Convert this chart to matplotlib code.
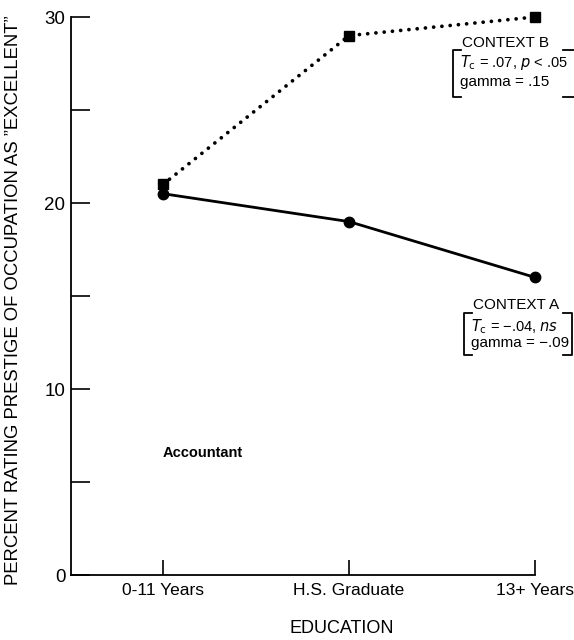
import matplotlib.pyplot as plt
import numpy as np

plt.rcParams['font.family'] = ['Liberation Sans', 'DejaVu Sans']

education = ['0-11 Years', 'H.S. Graduate', '13+ Years']
context_a = [20.5, 19.0, 16.0]
context_b = [21.0, 29.0, 30.0]
yticks = [0, 5, 10, 15, 20, 25, 30]
ylabels = ['0', '', '10', '', '20', '', '30']

fig = plt.figure(figsize=(5.74, 6.4), dpi=100)
ax = fig.add_axes([71/574, 1 - 575/640, 464/574, 558/640])

x = np.arange(len(education))
ax.plot(x, context_b, color='black', lw=2.7, linestyle=(0, (0.01, 2.2)),
        dash_capstyle='round', marker='s', ms=7.5, clip_on=False, zorder=3)
ax.plot(x, context_a, color='black', lw=2, marker='o', ms=7.5,
        clip_on=False, zorder=3)

ax.set_xlim(-0.495, 2)
ax.set_ylim(0, 30)
ax.set_xticks(x)
ax.set_xticklabels(education, fontsize=12.5)
ax.set_yticks(yticks)
ax.set_yticklabels(ylabels, fontsize=13.5)
ax.tick_params(axis='y', direction='in', length=14, width=1.2, pad=4)
ax.tick_params(axis='x', direction='in', length=11, width=1.2, pad=6)
for s in ['top', 'right']:
    ax.spines[s].set_visible(False)
for s in ['left', 'bottom']:
    ax.spines[s].set_linewidth(1.3)

ax.set_xlabel('EDUCATION', fontsize=13)
ax.xaxis.set_label_coords(0.584, -0.08)
ax.set_ylabel('PERCENT RATING PRESTIGE OF OCCUPATION AS \u201dEXCELLENT\u201d', fontsize=13.3)
ax.yaxis.set_label_coords(-0.106, 0.493)

ax.text(0, 6.55, 'Accountant', fontsize=10.5, fontweight='bold', ha='left', va='center')


def stats_box(xl, xt, ys, title, line1, line2, close):
    # ys: title centre, bracket top, line1, line2, bracket bottom (pixels)
    fig.text(xt/574, 1 - ys[0]/640, title, fontsize=11, ha='left', va='center')
    fig.text((xl + 7)/574, 1 - ys[2]/640, line1, fontsize=10.5, ha='left', va='center')
    fig.text((xl + 7)/574, 1 - ys[3]/640, line2, fontsize=11, ha='left', va='center')
    yt, yb = ys[1], ys[4]
    segs = [([xl + 8, xl, xl, xl + 8], [yt, yt, yb, yb])]
    if close:
        segs.append(([563, 572, 572, 563], [yt, yt, yb, yb]))
    else:
        segs += [([563, 574], [yt, yt]), ([563, 574], [yb, yb])]
    for xs, yy in segs:
        fig.add_artist(plt.Line2D([v/574 for v in xs], [1 - v/640 for v in yy],
                                  color='black', lw=1.3))


stats_box(453, 462, [43, 50, 63, 82, 97], 'CONTEXT B',
          r'$T_{\rm c}$ = .07, $p$ < .05', 'gamma = .15', False)
stats_box(464, 473, [305, 313, 327, 343, 355], 'CONTEXT A',
          '$T_{\\rm c}$ = \u2212.04, $ns$', 'gamma = \u2212.09', True)

plt.savefig('out.png', dpi=100)
